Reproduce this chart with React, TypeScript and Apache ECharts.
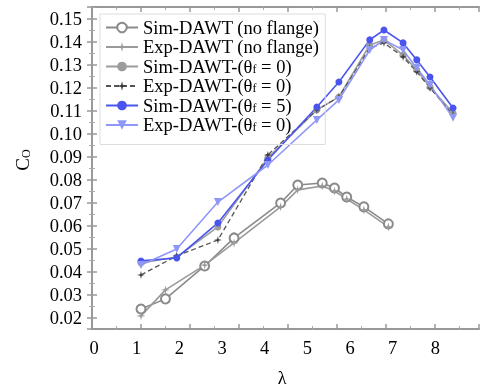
import React, { useEffect, useRef } from "react";
import * as echarts from "echarts";

// λ positions (tick-axis units) for the "no flange" curves
const lambdaNoFlange = [1.0, 1.5, 2.3, 2.9, 3.85, 4.2, 4.7, 4.95, 5.2, 5.55, 6.05];
const simNoFlange = [0.0239, 0.0283, 0.0426, 0.0548, 0.07, 0.0778, 0.0787, 0.0765, 0.0726, 0.0683, 0.0609];
const expNoFlange = [0.0209, 0.0322, 0.043, 0.0526, 0.0683, 0.0757, 0.0774, 0.0752, 0.0717, 0.067, 0.0596];

// λ positions for the flanged curves
const lambdaFlange = [1.0, 1.73, 2.57, 3.59, 4.59, 5.04, 5.67, 5.96, 6.35, 6.63, 6.9, 7.37];
const simTheta0 = [0.0439, 0.0465, 0.0596, 0.0896, 0.1104, 0.1161, 0.1387, 0.1409, 0.1343, 0.1278, 0.1204, 0.1091];
const expTheta0 = [0.0387, 0.047, 0.0539, 0.0909, 0.1104, 0.1161, 0.1374, 0.1396, 0.1335, 0.127, 0.12, 0.1083];
const simTheta5 = [0.0448, 0.0461, 0.0613, 0.0887, 0.1117, 0.1226, 0.1409, 0.1452, 0.1396, 0.1322, 0.1248, 0.1113];
const expTheta0b = [0.043, 0.05, 0.0704, 0.0865, 0.1061, 0.1148, 0.1365, 0.1409, 0.1365, 0.1287, 0.1213, 0.107];

const xTickLabels = ["0", "1", "2", "3", "4", "5", "6", "7", "8"];

const FONT = "Liberation Serif";
const star = "path://M5,0 L6,4 L10,5 L6,6 L5,10 L4,6 L0,5 L4,4 Z";

const zip = (xs: number[], ys: number[]) => ys.map((y, i) => [xs[i], y]);

export default function App() {
  const ref = useRef<HTMLDivElement>(null);
  useEffect(() => {
    if (!ref.current) return;
    const chart = echarts.init(ref.current, null, { renderer: "svg" });
    const axisLine = { show: true, lineStyle: { color: "#999", width: 2 } };
    const tick = { show: true, inside: true, length: 5, lineStyle: { color: "#999", width: 1.5 } };
    const minor = { show: true, splitNumber: 2, length: 3, lineStyle: { color: "#aaa", width: 1 } };
    const sub = { fontSize: 12, fontFamily: FONT, lineHeight: 16.5, verticalAlign: "bottom" as const, padding: [5, 0, 0, 0] };
    const mk = (name: string, xs: number[], ys: number[], color: string, symbol: string, extra: any = {}) => ({
      name,
      type: "line",
      xAxisIndex: 0,
      yAxisIndex: 0,
      data: zip(xs, ys),
      symbol,
      symbolSize: 8,
      itemStyle: { color },
      lineStyle: { color, width: 1.6 },
      ...extra,
    });
    chart.setOption({
      animation: false,
      grid: [
        { left: 92, right: 2, top: 7, bottom: 62 },
        { left: 94, right: -2, top: 7, bottom: 62 },
      ],
      xAxis: [
        {
          gridIndex: 0, type: "value", min: 0, max: 7.9, interval: 1, position: "bottom",
          axisLine, axisTick: tick, minorTick: minor, axisLabel: { show: false }, splitLine: { show: false },
        },
        {
          gridIndex: 0, type: "value", min: 0, max: 7.9, interval: 1, position: "top",
          axisLine, axisTick: tick, minorTick: minor, axisLabel: { show: false }, splitLine: { show: false },
        },
        {
          gridIndex: 1, type: "value", min: 0, max: 9, interval: 1, position: "bottom",
          axisLine: { show: false }, axisTick: { show: false }, splitLine: { show: false },
          axisLabel: {
            margin: 9, fontFamily: FONT, fontSize: 18.5, color: "#000",
            formatter: (v: number) => (Number.isInteger(v) && v < xTickLabels.length ? xTickLabels[v] : ""),
          },
        },
      ],
      yAxis: [
        {
          gridIndex: 0, type: "value", min: 0.0152, max: 0.1552, splitNumber: 14, position: "left",
          axisLine, axisTick: tick, minorTick: minor, splitLine: { show: false },
          axisLabel: {
            margin: 10, fontFamily: FONT, fontSize: 18.5, color: "#000",
            showMinLabel: false, showMaxLabel: false,
            formatter: (v: number) => v.toFixed(2),
          },
        },
        {
          gridIndex: 0, type: "value", min: 0.0152, max: 0.1552, splitNumber: 14, position: "right",
          axisLine, axisTick: tick, minorTick: minor, splitLine: { show: false }, axisLabel: { show: false },
        },
        { gridIndex: 1, type: "value", show: false, min: 0, max: 1 },
      ],
      legend: {
        left: 100,
        top: 14,
        orient: "vertical",
        padding: [4, 6, 10, 5],
        itemWidth: 32,
        itemHeight: 12,
        itemGap: 0.5,
        borderColor: "#ddd",
        borderWidth: 1,
        backgroundColor: "transparent",
        textStyle: { fontFamily: FONT, fontSize: 18.5, lineHeight: 16.5, color: "#000", rich: { sub } },
        formatter: (n: string) => n.replace("θf", "θ{sub|f}"),
        data: [
          "Sim-DAWT (no flange)",
          "Exp-DAWT (no flange)",
          "Sim-DAWT-(θf = 0)",
          "Exp-DAWT-(θf = 0)",
          "Sim-DAWT-(θf = 5)",
          "Exp-DAWT-(θf = 0) ",
        ],
      },
      graphic: [
        {
          type: "text", x: 22, y: 160, rotation: Math.PI / 2,
          style: {
            text: "C{sub|O}", fontFamily: FONT, fontSize: 19, fill: "#000",
            align: "center", verticalAlign: "middle",
            rich: { sub: { fontSize: 12, fontFamily: FONT, verticalAlign: "bottom", padding: [6, 0, 0, 0] } },
          },
        },
        {
          type: "text", x: 282, y: 378,
          style: { text: "λ", fontFamily: FONT, fontSize: 18, fill: "#000", align: "center", verticalAlign: "middle" },
        },
      ],
      series: [
        mk("Sim-DAWT (no flange)", lambdaNoFlange, simNoFlange, "#8a8a8a", "emptyCircle", { symbolSize: 9 }),
        mk("Exp-DAWT (no flange)", lambdaNoFlange, expNoFlange, "#9a9a9a", star, { symbolSize: 9 }),
        mk("Sim-DAWT-(θf = 0)", lambdaFlange, simTheta0, "#9c9c9c", "circle", { symbolSize: 7 }),
        mk("Exp-DAWT-(θf = 0)", lambdaFlange, expTheta0, "#3a3a3a", star, {
          symbolSize: 8,
          lineStyle: { color: "#555", width: 1.3, type: [5, 3] },
        }),
        mk("Sim-DAWT-(θf = 5)", lambdaFlange, simTheta5, "#4a55ee", "circle", { symbolSize: 7 }),
        mk("Exp-DAWT-(θf = 0) ", lambdaFlange, expTheta0b, "#8f98f6", "triangle", { symbolSize: 8, symbolRotate: 180 }),
      ],
    });
    return () => chart.dispose();
  }, []);
  return <div ref={ref} style={{ position: "fixed", left: 0, top: 0, width: 481, height: 391 }} />;
}
